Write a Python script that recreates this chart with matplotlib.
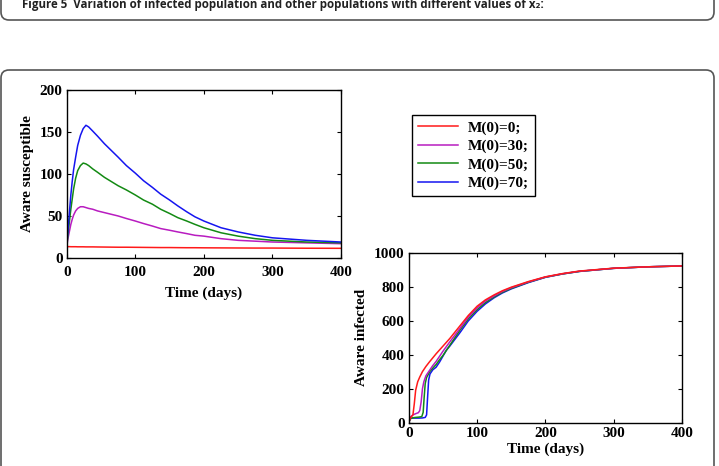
import numpy as np
import matplotlib
matplotlib.use('Agg')
import matplotlib.pyplot as plt
from matplotlib.patches import FancyBboxPatch

# Aware susceptible (left panel)
t_s = [0, 2, 4, 6, 8, 10, 13, 16, 20, 24, 28, 32, 38, 45, 55, 65, 75, 87, 100, 112, 125,
       137, 150, 162, 175, 187, 200, 225, 250, 275, 300, 350, 400]
s_m0 = [13.5, 13.5, 13.5, 13.4, 13.4, 13.4, 13.4, 13.3, 13.3, 13.3, 13.2, 13.2, 13.2, 13.1, 13.0, 12.9,
        12.8, 12.8, 12.7, 12.6, 12.5, 12.4, 12.4, 12.3, 12.2, 12.2, 12.1, 12.0, 11.9, 11.8, 11.8, 11.6, 11.5]
s_m30 = [14, 24, 32, 40, 46, 51, 56, 59, 61, 61, 60, 59, 58, 56, 54, 52, 50, 47, 44, 41, 38,
         35, 33, 31, 29, 27, 26, 23, 21, 20, 19, 18, 17]
s_m50 = [14, 30, 44, 58, 70, 82, 95, 104, 110, 113, 112, 110, 106, 102, 96, 91, 86, 81, 75, 69, 64,
         58, 53, 48, 44, 40, 36, 30, 26, 23, 21, 19, 18]
s_m70 = [14, 35, 55, 75, 91, 105, 120, 134, 146, 154, 158, 156, 151, 145, 136, 128, 120, 110, 101, 92, 84,
         76, 69, 62, 55, 49, 44, 36, 31, 27, 24, 21, 19]

# Aware infected (right panel)
t_i0 = [0, 3, 6, 8, 10, 13, 16, 20, 25, 30, 40, 50, 60, 75, 87, 100, 112, 125, 137, 150, 175,
        200, 225, 250, 300, 350, 400]
i_m0 = [5, 30, 45, 110, 190, 240, 268, 300, 330, 356, 405, 450, 495, 570, 630, 685, 722, 752, 776, 797, 830,
        858, 877, 892, 909, 917, 922]
t_i30 = [0, 3, 6, 10, 14, 16, 18, 20, 22, 25, 30, 35, 40, 50, 60, 75, 87, 100, 112, 125, 137, 150, 175,
         200, 225, 250, 300, 350, 400]
i_m30 = [5, 35, 45, 52, 58, 70, 120, 200, 240, 275, 305, 335, 360, 420, 475, 555, 620, 675, 715, 746, 772, 794, 828,
         857, 876, 891, 908, 917, 922]
t_i50 = [0, 3, 6, 10, 15, 19, 21, 22.5, 24, 26, 31, 35, 40, 45, 50, 60, 75, 87, 100, 112, 125, 137, 150, 175,
         200, 225, 250, 300, 350, 400]
i_m50 = [5, 25, 28, 30, 32, 35, 60, 150, 230, 265, 302, 320, 342, 370, 395, 455, 545, 610, 665, 706, 740, 767, 790, 826,
         856, 875, 890, 908, 917, 922]
t_i70 = [0, 3, 6, 10, 15, 20, 24, 26, 27.5, 29, 31, 35, 40, 45, 55, 60, 75, 87, 100, 112, 125, 137, 150, 175,
         200, 225, 250, 300, 350, 400]
i_m70 = [5, 25, 26, 26, 26, 27, 30, 45, 150, 250, 286, 310, 326, 356, 426, 450, 530, 598, 655, 698, 735, 763, 787, 824,
         855, 875, 890, 908, 917, 922]

labels = ['M(0)=0;', 'M(0)=30;', 'M(0)=50;', 'M(0)=70;']
colors = ['#ff1a1a', '#b81cc0', '#138a13', '#1515f0']

caption = 'Figure 5  Variation of infected population and other populations with different values of x\u2082:'

plt.rcParams['font.family'] = 'Liberation Serif'
plt.rcParams['font.weight'] = 'bold'
plt.rcParams['font.size'] = 11

fig = plt.figure(figsize=(7.19, 4.66), dpi=100)

# frame boxes of the page
bg = fig.add_axes([0, 0, 1, 1])
bg.set_xlim(0, 719)
bg.set_ylim(466, 0)
bg.set_axis_off()
bg.add_patch(FancyBboxPatch((1, -30), 713, 50, boxstyle='round,pad=0,rounding_size=8',
                            fc='none', ec='#555555', lw=1.2))
bg.add_patch(FancyBboxPatch((1, 70), 713, 440, boxstyle='round,pad=0,rounding_size=8',
                            fc='none', ec='#555555', lw=1.2))
fig.text(22, 8, caption, transform=bg.transData,
         family=['Open Sans', 'DejaVu Sans'], weight='bold',
         fontsize=8.3, color='#222222', va='baseline', ha='left')


def style(ax, xpad):
    ax.tick_params(direction='in', top=True, right=True, length=3, width=0.8, pad=3,
                   labelsize=11)
    ax.tick_params(axis='x', pad=xpad)
    for sp in ax.spines.values():
        sp.set_linewidth(1.0)
    for lab in ax.get_xticklabels() + ax.get_yticklabels():
        lab.set_fontweight('bold')


ax1 = fig.add_axes([0.0928, 0.4464, 0.3815, 0.3605])
ax1.plot(t_s, s_m0, color=colors[0], lw=1.1, label=labels[0])
ax1.plot(t_s, s_m30, color=colors[1], lw=1.1, label=labels[1])
ax1.plot(t_s, s_m50, color=colors[2], lw=1.1, label=labels[2])
ax1.plot(t_s, s_m70, color=colors[3], lw=1.1, label=labels[3])
ax1.set_xlim(0, 400)
ax1.set_ylim(0, 200)
ax1.set_xticks([0, 100, 200, 300, 400])
ax1.set_yticks([0, 50, 100, 150, 200])
ax1.set_xlabel('Time (days)', fontweight='bold', labelpad=5)
ax1.set_ylabel('Aware susceptible', fontweight='bold', labelpad=4)
style(ax1, 6)

ax2 = fig.add_axes([0.5686, 0.0933, 0.380, 0.3644])
ax2.plot(t_i70, i_m70, color=colors[3], lw=1.1)
ax2.plot(t_i50, i_m50, color=colors[2], lw=1.1)
ax2.plot(t_i30, i_m30, color=colors[1], lw=1.1)
ax2.plot(t_i0, i_m0, color=colors[0], lw=1.1)
ax2.set_xlim(0, 400)
ax2.set_ylim(0, 1000)
ax2.set_xticks([0, 100, 200, 300, 400])
ax2.set_yticks([0, 200, 400, 600, 800, 1000])
ax2.set_xlabel('Time (days)', fontweight='bold', labelpad=2)
ax2.set_ylabel('Aware infected', fontweight='bold', labelpad=4)
style(ax2, 3)

h, l = ax1.get_legend_handles_labels()
leg = fig.legend(h, l, loc='upper left', bbox_to_anchor=(0.573, 0.7532), borderaxespad=0,
                 fancybox=False, edgecolor='black', framealpha=1, handlelength=2.6,
                 handletextpad=0.65, labelspacing=0.3, borderpad=0.4,
                 prop={'family': 'Liberation Serif', 'weight': 'bold', 'size': 11})
leg.get_frame().set_linewidth(1.0)

fig.savefig('out.png', dpi=100)
